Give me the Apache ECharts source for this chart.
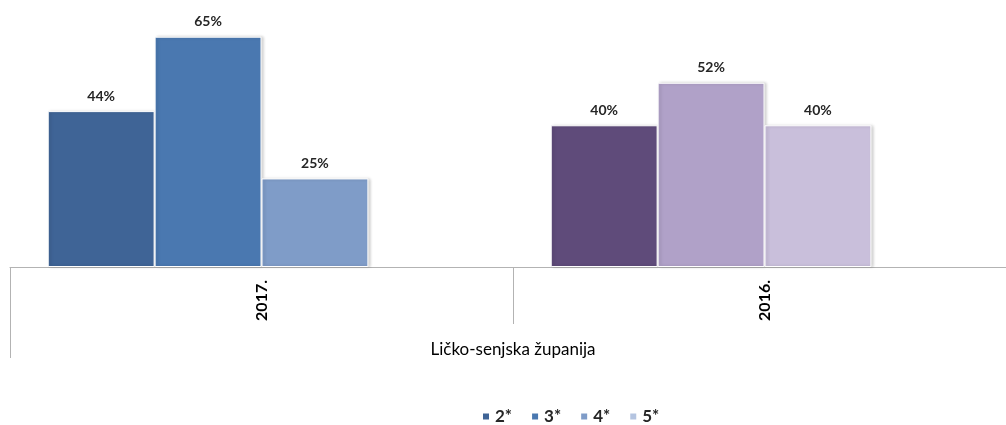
<!DOCTYPE html>
<html>
<head>
    <meta charset="utf-8">
    <title>Ličko-senjska županija</title>
    <script src="https://cdn.jsdelivr.net/npm/echarts@6/dist/echarts.min.js"></script>
    <style>
        html, body { margin: 0; padding: 0; background: #fff; overflow: hidden; }
    </style>
</head>
<body>
<!-- plot se nastavlja malo preko desnog ruba, kao u originalu -->
<div id="main" style="width: 1016px;height:425px;"></div>
<script type="text/javascript">
    // podaci
    var years = ['2017.', '2016.'];
    var region = ['Ličko-senjska županija'];
    var seriesNames = ['2*', '3*', '4*', '5*'];
    var s2 = [44, 40];
    var s3 = [65, 52];
    var s4 = [25, 40];
    var s5 = [null, null];

    // boje: legenda / boja po godini
    var legendColors = ['#3f6496', '#4a78b0', '#7f9cc8', '#b4c4e0'];
    var pointColors = [
        ['#3f6496', '#5f4b7a'],
        ['#4a78b0', '#b0a1c8'],
        ['#7f9cc8', '#c9bfdb'],
        ['#b4c4e0', '#d9d2e6']
    ];

    var font = 'Lato, "Open Sans", sans-serif';

    function makeSeries(idx, values) {
        return {
            name: seriesNames[idx],
            type: 'bar',
            barGap: 0,
            barCategoryGap: '15%',
            color: legendColors[idx],
            itemStyle: {
                borderColor: '#ffffff',
                borderWidth: 1,
                shadowColor: 'rgba(0,0,0,0.18)',
                shadowBlur: 3,
                shadowOffsetX: 2
            },
            label: {
                show: true,
                position: 'top',
                distance: 8,
                formatter: '{c}%',
                fontFamily: font,
                fontWeight: 'bold',
                fontSize: 14,
                color: '#262626'
            },
            data: values.map(function (v, i) {
                return { value: v, itemStyle: { color: pointColors[idx][i] } };
            })
        };
    }

    var myChart = echarts.init(document.getElementById('main'));
    var option = {
        animation: false,
        textStyle: { fontFamily: font },
        grid: { left: 10, top: 19, right: 0, bottom: 158 },
        legend: {
            data: seriesNames,
            left: 476,
            top: 403,
            icon: 'rect',
            itemWidth: 8,
            itemHeight: 8,
            itemGap: 18,
            textStyle: { fontFamily: font, fontWeight: 'bold', fontSize: 17, color: '#262626' }
        },
        xAxis: [
            {
                type: 'category',
                data: years,
                position: 'bottom',
                axisLine: { show: true, lineStyle: { color: '#b3b3b3', width: 1 } },
                axisTick: { show: true, length: 57, lineStyle: { color: '#b3b3b3' } },
                axisLabel: {
                    rotate: 90,
                    margin: 13,
                    fontFamily: font,
                    fontWeight: 'bold',
                    fontSize: 16,
                    color: '#000'
                }
            },
            {
                type: 'category',
                data: region,
                position: 'bottom',
                offset: 57,
                axisLine: { show: false },
                axisTick: { show: true, length: 34, lineStyle: { color: '#b3b3b3' } },
                axisLabel: {
                    margin: 17,
                    fontFamily: font,
                    fontSize: 17,
                    color: '#000'
                }
            }
        ],
        yAxis: { type: 'value', min: 0, max: 70, show: false },
        series: [
            makeSeries(0, s2),
            makeSeries(1, s3),
            makeSeries(2, s4),
            makeSeries(3, s5)
        ]
    };
    myChart.setOption(option);
</script>
</body>
</html>
